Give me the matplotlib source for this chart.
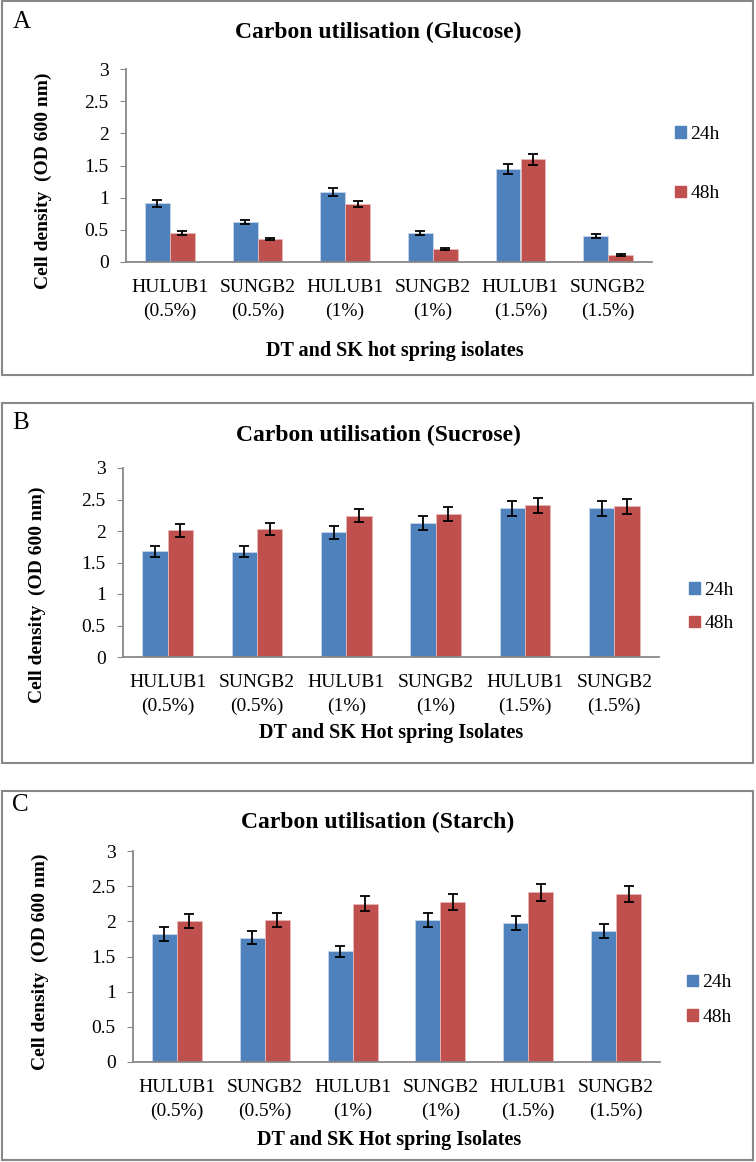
import numpy as np
import matplotlib
matplotlib.use("Agg")
import matplotlib.pyplot as plt
from matplotlib.patches import Rectangle, Patch

plt.rcParams['font.family'] = ['Liberation Serif', 'DejaVu Serif']

categories = ["HULUB1\n(0.5%)", "SUNGB2\n(0.5%)", "HULUB1\n(1%)",
              "SUNGB2\n(1%)", "HULUB1\n(1.5%)", "SUNGB2\n(1.5%)"]
series_names = ["24h", "48h"]

glucose_24 = [0.91, 0.62, 1.09, 0.45, 1.45, 0.40]
glucose_24_err = [0.05, 0.03, 0.06, 0.03, 0.08, 0.03]
glucose_48 = [0.45, 0.36, 0.90, 0.20, 1.60, 0.11]
glucose_48_err = [0.03, 0.02, 0.045, 0.015, 0.085, 0.01]

sucrose_24 = [1.68, 1.67, 1.98, 2.13, 2.36, 2.36]
sucrose_24_err = [0.087, 0.09, 0.10, 0.11, 0.12, 0.12]
sucrose_48 = [2.01, 2.03, 2.24, 2.27, 2.41, 2.39]
sucrose_48_err = [0.10, 0.10, 0.105, 0.11, 0.12, 0.115]

starch_24 = [1.82, 1.77, 1.575, 2.02, 1.98, 1.86]
starch_24_err = [0.095, 0.09, 0.08, 0.10, 0.10, 0.097]
starch_48 = [2.01, 2.02, 2.25, 2.27, 2.41, 2.39]
starch_48_err = [0.10, 0.10, 0.11, 0.115, 0.12, 0.115]

yticks = [0, 0.5, 1, 1.5, 2, 2.5, 3]
ytick_labels = ["0", "0.5", "1", "1.5", "2", "2.5", "3"]

BLUE = "#4F81BD"
RED = "#C0504D"
GREY = "#888888"

W, H = 756, 1162
fig = plt.figure(figsize=(W / 100, H / 100), dpi=100)


def fx(px):
    return px / W


def fy(py):
    return 1 - py / H


def panel(box, ax_px, letter, title, xlabel, s24, e24, s48, e48,
          pos):
    # box frame (pixels: top, bottom)
    top, bot = box
    fig.patches.append(Rectangle((fx(2), fy(bot)), fx(751), (bot - top) / H,
                                 transform=fig.transFigure, fill=False,
                                 edgecolor=GREY, lw=1.5))
    left, right, y3, y0 = ax_px
    ax = fig.add_axes([fx(left), fy(y0), fx(right - left), (y0 - y3) / H])
    x = np.arange(len(categories))
    w = 0.285
    ax.bar(x - w / 2, s24, w, color=BLUE, edgecolor="#c7d6ea", lw=0.6,
           yerr=e24, capsize=3.5, error_kw=dict(lw=1.3, capthick=1.3, ecolor="black"))
    ax.bar(x + w / 2, s48, w, color=RED, edgecolor="#e8b8b6", lw=0.6,
           yerr=e48, capsize=3.5, error_kw=dict(lw=1.3, capthick=1.3, ecolor="black"))
    ax.set_xlim(-0.5, len(categories) - 0.5)
    ax.set_ylim(0, 3)
    ax.set_yticks(yticks)
    ax.set_yticklabels(ytick_labels)
    ax.set_xticks(x)
    ax.set_xticklabels(categories, linespacing=1.45)
    ax.tick_params(axis="y", length=4, color=GREY, pad=8.5, labelsize=14)
    ax.tick_params(axis="x", length=0, pad=12.5, labelsize=14)
    for s in ["top", "right"]:
        ax.spines[s].set_visible(False)
    for s in ["left", "bottom"]:
        ax.spines[s].set_color(GREY)
        ax.spines[s].set_linewidth(1.3)

    fig.text(fx(pos["letter"][0]), fy(pos["letter"][1]), letter, fontsize=18,
             ha="left", va="center")
    fig.text(fx(378), fy(pos["title"]), title, fontsize=17, fontweight="bold",
             ha="center", va="center")
    fig.text(fx(pos["ylab"][0]), fy(pos["ylab"][1]), "Cell density  (OD 600 nm)",
             fontsize=14, fontweight="bold", rotation=90, ha="center", va="center")
    fig.text(fx(pos["xlab"][0]), fy(pos["xlab"][1]), xlabel, fontsize=14.5,
             fontweight="bold", ha="center", va="center")

    handles = [Patch(color=BLUE), Patch(color=RED)]
    ax.legend(handles, series_names, loc="center left",
              bbox_to_anchor=(fx(pos["leg"][0]), fy(pos["leg"][1])),
              bbox_transform=fig.transFigure, frameon=False, fontsize=14,
              handlelength=0.55, handleheight=0.55, handletextpad=0.25,
              labelspacing=pos["leg"][2], borderpad=0, borderaxespad=0)
    return ax


panel((1, 375), (126, 652, 69, 262), "A", "Carbon utilisation (Glucose)",
      "DT and SK hot spring isolates", glucose_24, glucose_24_err,
      glucose_48, glucose_48_err,
      dict(letter=(13, 22), title=32, ylab=(43, 181), xlab=(395, 351),
           leg=(675, 164, 2.2)))

panel((403, 763), (123, 659, 468, 657), "B", "Carbon utilisation (Sucrose)",
      "DT and SK Hot spring Isolates", sucrose_24, sucrose_24_err,
      sucrose_48, sucrose_48_err,
      dict(letter=(12, 423), title=435, ylab=(37, 595), xlab=(391, 733),
           leg=(689, 607, 0.85)))

panel((791, 1160), (133, 660, 851, 1062), "C", "Carbon utilisation (Starch)",
      "DT and SK Hot spring Isolates", starch_24, starch_24_err,
      starch_48, starch_48_err,
      dict(letter=(12, 805), title=822, ylab=(40, 962), xlab=(389, 1140),
           leg=(687, 1000, 0.9)))

fig.savefig("out.png", dpi=100)
